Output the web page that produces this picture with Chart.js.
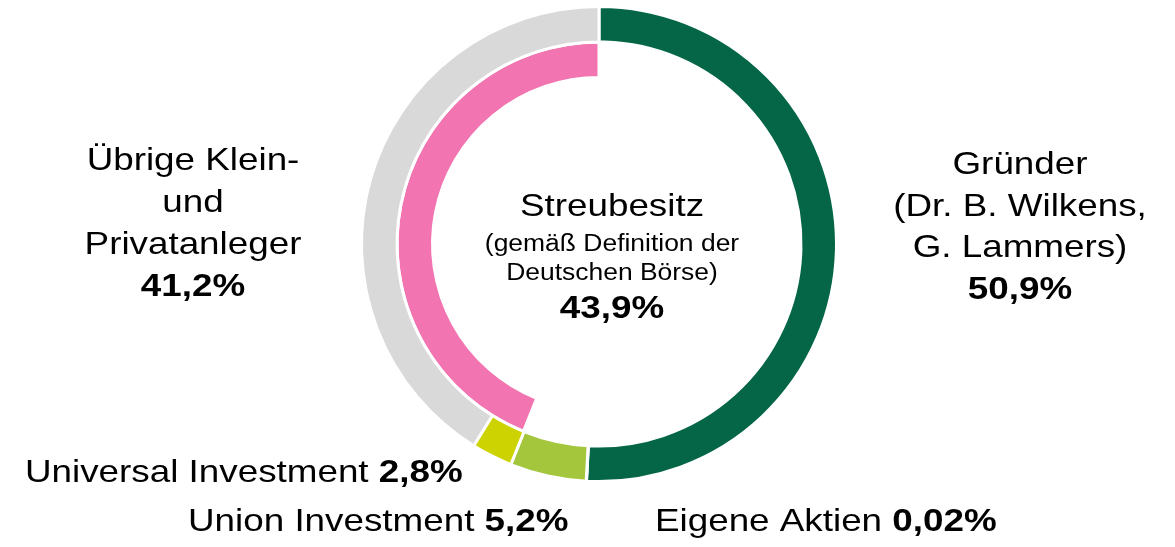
<!DOCTYPE html>
<html>
<head>
<meta charset="utf-8">
<script src="https://cdn.jsdelivr.net/npm/chart.js@4"></script>
<style>
  html, body { margin: 0; padding: 0; background: #fff; }
  #wrap { width: 1175px; height: 547px; }
</style>
</head>
<body>
<div id="wrap"><canvas id="shareChart"></canvas></div>
<script>
// Aktionärsstruktur, Anteile in %
const holders = ['Gründer', 'Eigene Aktien', 'Union Investment', 'Universal Investment', 'Übrige Klein- und Privatanleger'];
const holderShares = [50.9, 0.02, 5.2, 2.8, 41.2];
const holderColors = ['#046647', '#7f7f7f', '#a3c63c', '#ccd300', '#d9d9d9'];

// innerer Ring: Streubesitz
const freeFloatShare = 43.9;
const freeFloatColor = '#f274b0';

const pct = v => String(v).replace('.', ',') + '%';

// Text wird etwas breiter gezogen, wie im Original
const SX = 1.15;
const FONT = '"Liberation Sans", Arial, sans-serif';

// Beschriftungen (Position, Zeilen, Fett-Anteile)
const labelBlocks = [
  { x: 193, align: 'center', baselines: [170, 212, 254, 296], size: 32,
    lines: [[['Übrige Klein-']], [['und']], [['Privatanleger']], [[pct(holderShares[4]), true]]] },
  { x: 1020, align: 'center', baselines: [174, 216, 257, 299], size: 32,
    lines: [[['Gründer']], [['(Dr. B. Wilkens,']], [['G. Lammers)']], [[pct(holderShares[0]), true]]] },
  { x: 25, align: 'left', baselines: [482], size: 32,
    lines: [[['Universal Investment '], [pct(holderShares[3]), true]]] },
  { x: 188, align: 'left', baselines: [531], size: 32,
    lines: [[['Union Investment '], [pct(holderShares[2]), true]]] },
  { x: 655, align: 'left', baselines: [531], size: 32,
    lines: [[['Eigene Aktien '], [pct(holderShares[1]), true]]] },
  { x: 612, align: 'center', baselines: [216], size: 32, lines: [[['Streubesitz']]] },
  { x: 612, align: 'center', baselines: [251, 280], size: 23,
    lines: [[['(gemäß Definition der']], [['Deutschen Börse)']]] },
  { x: 612, align: 'center', baselines: [318], size: 32, lines: [[[pct(freeFloatShare), true]]] }
];

function drawLine(ctx, parts, x, y, align, size) {
  const fontFor = bold => (bold ? 'bold ' : '') + size + 'px ' + FONT;
  const widths = parts.map(p => {
    ctx.font = fontFor(p[1]);
    return ctx.measureText(p[0]).width * SX;
  });
  const total = widths.reduce((a, b) => a + b, 0);
  let cx = align === 'center' ? x - total / 2 : x;
  parts.forEach((p, i) => {
    ctx.font = fontFor(p[1]);
    ctx.save();
    ctx.translate(cx, y);
    ctx.scale(SX, 1);
    ctx.fillText(p[0], 0, 0);
    ctx.restore();
    cx += widths[i];
  });
}

const labelPlugin = {
  id: 'labelPlugin',
  afterDraw(chart) {
    const ctx = chart.ctx;
    ctx.save();
    ctx.fillStyle = '#000';
    ctx.textAlign = 'left';
    ctx.textBaseline = 'alphabetic';
    labelBlocks.forEach(b => {
      b.lines.forEach((line, i) => drawLine(ctx, line, b.x, b.baselines[i], b.align, b.size));
    });
    ctx.restore();
  }
};

new Chart(document.getElementById('shareChart').getContext('2d'), {
  type: 'doughnut',
  data: {
    labels: holders,
    datasets: [
      {
        data: holderShares,
        backgroundColor: holderColors,
        borderColor: '#fff',
        borderWidth: 3
      },
      {
        data: [100 - freeFloatShare, freeFloatShare],
        backgroundColor: ['rgba(0,0,0,0)', freeFloatColor],
        borderColor: '#fff',
        borderWidth: [0, 3]
      }
    ]
  },
  options: {
    responsive: true,
    maintainAspectRatio: false,
    animation: false,
    radius: 237.5,
    cutout: '70.1%',
    hoverOffset: 0,
    layout: { padding: { left: 23, right: 0, top: 0, bottom: 59 } },
    plugins: {
      legend: { display: false },
      tooltip: { enabled: false }
    }
  },
  plugins: [labelPlugin]
});
</script>
</body>
</html>
